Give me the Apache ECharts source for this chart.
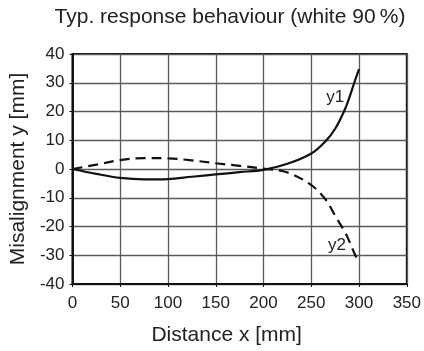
<!DOCTYPE html>
<html>
<head>
<meta charset="utf-8">
<script src="https://cdn.jsdelivr.net/npm/echarts@6/dist/echarts.min.js"></script>
<style>
html,body{margin:0;padding:0;background:#fff;}
#chart{width:424px;height:351px;}
</style>
</head>
<body>
<div id="chart"></div>
<script>
const distanceX = [0, 25, 50, 75, 100, 125, 150, 175, 200, 225, 250, 265, 275, 285, 290, 295, 300];
const y1Values = [0, -1.7, -3.1, -3.6, -3.5, -2.7, -1.9, -1.1, -0.3, 1.8, 5.4, 9.7, 14.0, 20.6, 25.0, 30.0, 34.7];
const y2Values = [0, 1.5, 3.1, 3.8, 3.7, 3.0, 2.0, 1.1, 0.1, -1.2, -5.6, -10.6, -16.3, -21.8, -25.3, -29.2, -32.5];
const xTicks = [0, 50, 100, 150, 200, 250, 300, 350];
const yTicks = [-40, -30, -20, -10, 0, 10, 20, 30, 40];
const seriesNames = ['y1', 'y2'];
const labelAnchors = { y1: [275, 25], y2: [277, -26.5] };

const font = '"Liberation Sans", Arial, Helvetica, sans-serif';
const chart = echarts.init(document.getElementById('chart'), null, { renderer: 'canvas' });
const pair = (xs, ys) => xs.map((x, i) => [x, ys[i]]);

chart.setOption({
  animation: false,
  backgroundColor: '#fff',
  title: {
    text: 'Typ. response behaviour (white 90\u2009%)',
    left: 230,
    top: 7,
    padding: 0,
    textAlign: 'center',
    textStyle: { fontFamily: font, fontSize: 21, fontWeight: 'normal', color: '#222' }
  },
  grid: {
    left: 69, right: 12, top: 54, bottom: 61,
    show: true, borderColor: '#111', borderWidth: 2, backgroundColor: 'transparent'
  },
  xAxis: {
    type: 'value',
    min: xTicks[0], max: xTicks[xTicks.length - 1], interval: 50,
    name: 'Distance x [mm]',
    nameLocation: 'middle',
    nameGap: 41,
    nameTextStyle: { fontFamily: font, fontSize: 21, color: '#222', padding: [0, 26, 0, 0] },
    axisLine: { show: true, onZero: false, lineStyle: { color: '#111', width: 2 } },
    axisTick: { show: true, length: 3, lineStyle: { color: '#111', width: 1 } },
    axisLabel: { fontFamily: font, fontSize: 17, color: '#222', margin: 11 },
    splitLine: { show: true, lineStyle: { color: '#5a5a5a', width: 1.3 } }
  },
  yAxis: {
    type: 'value',
    min: yTicks[0], max: yTicks[yTicks.length - 1], interval: 10,
    name: 'Misalignment y [mm]',
    nameLocation: 'middle',
    nameGap: 41,
    nameRotate: 90,
    nameTextStyle: { fontFamily: font, fontSize: 21, color: '#222' },
    axisLine: { show: true, onZero: false, lineStyle: { color: '#111', width: 2 } },
    axisTick: { show: true, length: 3, lineStyle: { color: '#111', width: 1 } },
    axisLabel: { fontFamily: font, fontSize: 17, color: '#222', margin: 8 },
    splitLine: { show: true, lineStyle: { color: '#5a5a5a', width: 1.3 } }
  },
  series: [
    {
      name: seriesNames[0], type: 'line', smooth: 0.35, showSymbol: false, symbol: 'none',
      data: pair(distanceX, y1Values),
      lineStyle: { color: '#111', width: 2.2 },
      z: 3,
      markPoint: {
        symbol: 'circle', symbolSize: 0,
        label: { show: true, position: 'inside', formatter: seriesNames[0], fontFamily: font, fontSize: 17, color: '#222' },
        data: [{ coord: labelAnchors.y1 }]
      }
    },
    {
      name: seriesNames[1], type: 'line', smooth: 0.35, showSymbol: false, symbol: 'none',
      data: pair(distanceX, y2Values),
      lineStyle: { color: '#111', width: 2.2, type: [10, 6] },
      z: 3,
      markPoint: {
        symbol: 'circle', symbolSize: 0,
        label: { show: true, position: 'inside', formatter: seriesNames[1], fontFamily: font, fontSize: 17, color: '#222' },
        data: [{ coord: labelAnchors.y2 }]
      }
    }
  ]
});
</script>
</body>
</html>
